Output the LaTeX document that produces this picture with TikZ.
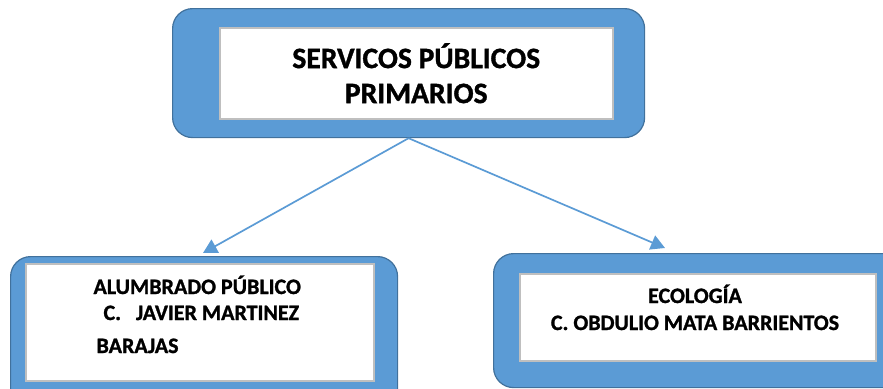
\documentclass[tikz,border=0pt]{standalone}
\usepackage{fontspec}
\setmainfont{Carlito}[BoldFeatures={FakeBold=1.2}]
\usepackage{tikz}
\usetikzlibrary{arrows.meta}

\definecolor{azul}{HTML}{5B9BD5}
\definecolor{azulborde}{HTML}{41719C}
\definecolor{gris}{HTML}{BFBFBF}

\tikzset{
  marco/.style={draw=azulborde, fill=azul, rounded corners=20pt, line width=1.2pt, anchor=north west, inner sep=0pt},
  hoja/.style={draw=gris, fill=white, line width=1.5pt, anchor=north west, inner sep=0pt},
  flecha/.style={-{Triangle[length=14pt,width=15pt]}, color=azul, line width=1.7pt},
  grande/.style={font=\bfseries\fontsize{29.6}{35}\selectfont, align=center},
  chico/.style={font=\bfseries\fontsize{22}{24}\selectfont}
}

\begin{document}
\begin{tikzpicture}[x=1pt,y=-1pt]
\useasboundingbox (0,0) rectangle (883,388);
\clip (0,0) rectangle (883,388);

% cajas
\node[marco, minimum width=472pt, minimum height=129pt] (raiz) at (172,8) {};
\node[hoja, minimum width=393pt, minimum height=91pt] (raizhoja) at (219,27) {};
\node[marco, minimum width=387pt, minimum height=160pt] (izq) at (10,256) {};
\node[hoja, minimum width=348pt, minimum height=117pt] (izqhoja) at (25,263) {};
\node[marco, minimum width=420pt, minimum height=134pt] (der) at (493,253) {};
\node[hoja, minimum width=356pt, minimum height=87pt] (derhoja) at (519,273) {};

% textos
\node[grande] (titulo) at (raizhoja.center) {SERVICOS PÚBLICOS\\PRIMARIOS};
\node[chico, anchor=base west] (alum) at (90,294) {ALUMBRADO PÚBLICO};
\node[chico, anchor=base west] (javier) at (100,320) {C.\ \ \ JAVIER MARTINEZ};
\node[chico, anchor=base west] (barajas) at (93,353) {BARAJAS};
\node[chico, anchor=base] (eco) at (695,303) {ECOLOGÍA};
\node[chico, anchor=base] (obdulio) at (695,330) {C. OBDULIO MATA BARRIENTOS};

% flechas
\coordinate (llegaizq) at (203,253);
\coordinate (llegader) at (665,248);
\draw[flecha] (raiz.south) -- (llegaizq);
\draw[flecha] (raiz.south) -- (llegader);

\end{tikzpicture}
\end{document}
